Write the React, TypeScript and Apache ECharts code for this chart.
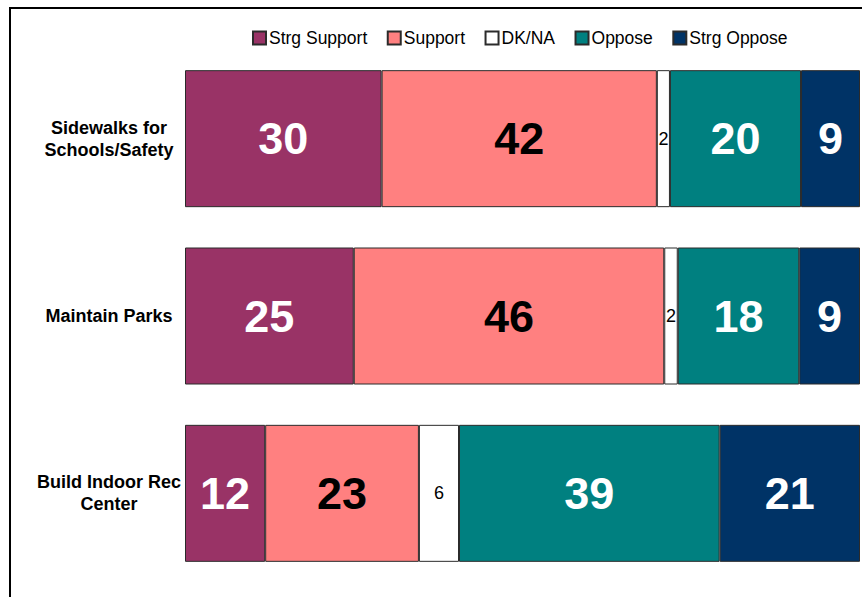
import React, { useEffect, useRef } from "react";
import * as echarts from "echarts";

const categories = ["Sidewalks for\nSchools/Safety", "Maintain Parks", "Build Indoor Rec\nCenter"];
const seriesNames = ["Strg Support", "Support", "DK/NA", "Oppose", "Strg Oppose"];
const strgSupport = [30, 25, 12];
const support = [42, 46, 23];
const dkna = [2, 2, 6];
const oppose = [20, 18, 39];
const strgOppose = [9, 9, 21];

const FONT = "'Liberation Sans', Arial, Helvetica, sans-serif";

export default function App() {
  const ref = useRef<HTMLDivElement>(null);
  useEffect(() => {
    if (!ref.current) return;
    const chart = echarts.init(ref.current, undefined, { renderer: "svg" });
    const raw = [strgSupport, support, dkna, oppose, strgOppose];
    const totals = categories.map((_, i) => raw.reduce((s, arr) => s + arr[i], 0));
    const colors = ["#993366", "#FF8080", "#FFFFFF", "#008080", "#003366"];
    const labelColors = ["#FFFFFF", "#000000", "#000000", "#FFFFFF", "#FFFFFF"];
    const series = seriesNames.map((name, si) => ({
      name,
      type: "bar",
      stack: "total",
      barWidth: 137,
      itemStyle: { color: colors[si], borderColor: "#2b2b2b", borderWidth: 1 },
      label: {
        show: true,
        position: "inside",
        color: labelColors[si],
        fontFamily: FONT,
        fontSize: si === 2 ? 18 : 45,
        fontWeight: si === 2 ? "normal" : "bold",
        formatter: (p: any) => String(raw[si][p.dataIndex]),
      },
      emphasis: { disabled: true },
      data: raw[si].map((v, i) => (v / totals[i]) * 100),
    }));
    chart.setOption({
      animation: false,
      backgroundColor: "#ffffff",
      textStyle: { fontFamily: FONT },
      graphic: [
        {
          type: "rect",
          shape: { x: 10, y: 8, width: 900, height: 700 },
          style: { fill: "none", stroke: "#000", lineWidth: 2 },
          silent: true,
        },
      ],
      legend: {
        left: 252,
        top: 29,
        padding: 0,
        itemGap: 19.5,
        itemWidth: 13,
        itemHeight: 13,
        icon: "rect",
        textStyle: { fontSize: 17.5, color: "#000", fontFamily: FONT, padding: [0, 0, 0, -2] },
        data: seriesNames,
      },
      grid: { left: 185, right: 2, top: 50, bottom: 15, containLabel: false },
      xAxis: { type: "value", min: 0, max: 100, show: false },
      yAxis: {
        type: "category",
        inverse: true,
        data: categories,
        axisLine: { show: false },
        axisTick: { show: false },
        axisLabel: {
          align: "center",
          margin: 76,
          fontSize: 18,
          fontWeight: "bold",
          color: "#000",
          lineHeight: 22,
          fontFamily: FONT,
        },
      },
      series,
    });
    return () => chart.dispose();
  }, []);
  return <div ref={ref} style={{ position: "fixed", left: 0, top: 0, width: 862, height: 597 }} />;
}
